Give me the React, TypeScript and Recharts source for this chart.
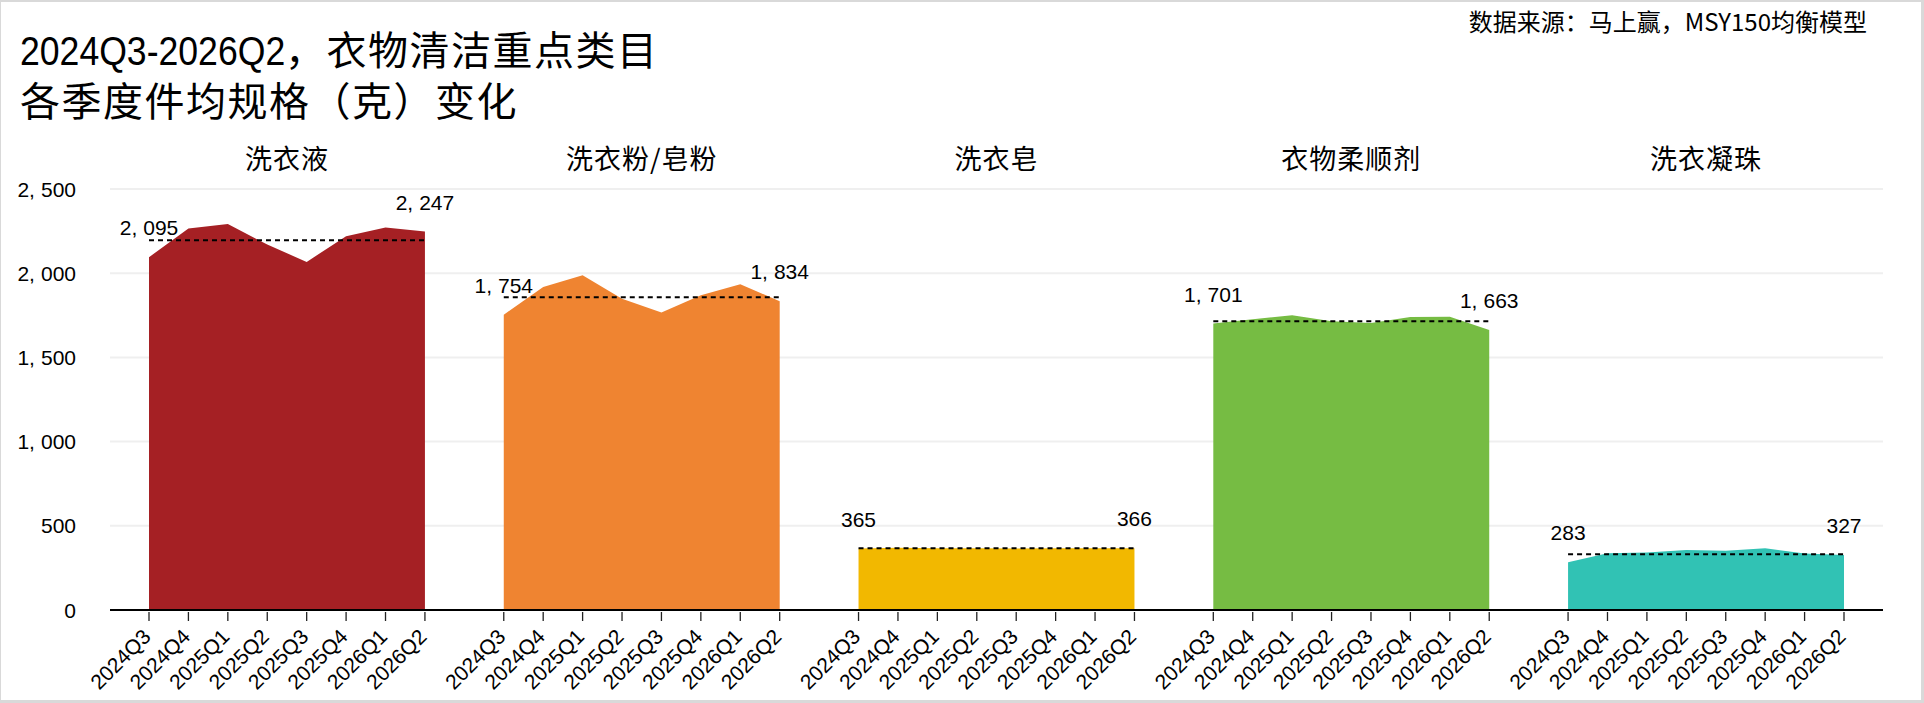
import React from 'react';
import { ComposedChart, Area, Line, XAxis, YAxis, CartesianGrid } from 'recharts';

const quarters = ['2024Q3', '2024Q4', '2025Q1', '2025Q2', '2025Q3', '2025Q4', '2026Q1', '2026Q2'];
const categoryNames = ['洗衣液', '洗衣粉/皂粉', '洗衣皂', '衣物柔顺剂', '洗衣凝珠'];
const liquidValues = [2095, 2266, 2292, 2170, 2067, 2220, 2272, 2247];
const powderValues = [1754, 1918, 1988, 1849, 1766, 1869, 1934, 1834];
const soapValues = [365, 369, 367, 366, 365, 366, 366, 366];
const softenerValues = [1701, 1726, 1750, 1714, 1704, 1740, 1742, 1663];
const podsValues = [283, 337, 341, 356, 352, 367, 336, 327];
const averageValues = [2196, 1857, 366, 1714, 331];
const yTicks = [0, 500, 1000, 1500, 2000, 2500];
const colors = ['#A52024', '#EF8431', '#F2B800', '#76BC43', '#31C2B4'];
const titleLatin = '2024Q3-2026Q2';
const titleCjk = '，衣物清洁重点类目';
const titleLine2 = '各季度件均规格（克）变化';
const sourceText = '数据来源：马上赢，MSY150均衡模型';

const seriesValues = [liquidValues, powderValues, soapValues, softenerValues, podsValues];

type Row = { key: string; quarter: string; first?: boolean; last?: boolean; avg?: number; [k: string]: any };
const rows: Row[] = [];
seriesValues.forEach((vals, p) => {
  if (p > 0) rows.push({ key: `gap-${p}`, quarter: '' });
  vals.forEach((v, i) => {
    rows.push({
      key: `${p}-${quarters[i]}`,
      quarter: quarters[i],
      [`v${p}`]: v,
      avg: averageValues[p],
      first: i === 0,
      last: i === vals.length - 1,
    });
  });
});
const quarterOfKey: Record<string, string> = {};
rows.forEach((r) => (quarterOfKey[r.key] = r.quarter));

const W = 1924;
const H = 703;
const plotLeft = 110;
const plotRight = 1883;
const plotTop = 189;
const pad = 39;
const step = (plotRight - plotLeft - 2 * pad) / (rows.length - 1);

const numFont = '"Liberation Sans", Arial, sans-serif';
const cjkFont = '"Noto Sans CJK SC", "Noto Sans", sans-serif';
const titleFont = '"Liberation Sans", "Noto Sans CJK SC", sans-serif';

const fmt = (v: number) => v.toLocaleString('en-US');

const NumText = ({ x, y, value, anchor, dy }: { x: number; y: number; value: number; anchor: string; dy?: string }) => {
  const parts = fmt(value).split(',');
  return (
    <text x={x} y={y} dy={dy} textAnchor={anchor as any} fontFamily={numFont} fontSize={21} fill="#000">
      {parts.length > 1 ? (
        <>
          <tspan>{parts[0] + ','}</tspan>
          {parts.slice(1).map((pt, i) => (
            <tspan key={i} dx={6}>
              {pt}
            </tspan>
          ))}
        </>
      ) : (
        parts[0]
      )}
    </text>
  );
};

const YTick = (props: any) => {
  const { x, y, payload } = props;
  return <NumText x={x} y={y} value={payload.value} anchor="end" dy="0.36em" />;
};

const XTick = (props: any) => {
  const { x, y, payload } = props;
  const label = quarterOfKey[payload.value];
  if (!label) return <g />;
  const tx = x + 3;
  const ty = y + 20;
  return (
    <g>
      <line x1={x} x2={x} y1={y - 6} y2={y + 3} stroke="#222" strokeWidth={1.3} />
      <text
        x={tx}
        y={ty}
        textAnchor="end"
        transform={`rotate(-45, ${tx}, ${ty})`}
        fontFamily={numFont}
        fontSize={21}
        fill="#000"
      >
        {label}
      </text>
    </g>
  );
};

const makeDot = (p: number) => (props: any) => {
  const { cx, cy, payload, index } = props;
  if (cx == null || cy == null || !payload || (!payload.first && !payload.last)) {
    return <g key={`d-${p}-${index}`} />;
  }
  return (
    <g key={`d-${p}-${index}`}>
      <NumText x={cx} y={cy - 22} value={payload[`v${p}`]} anchor="middle" />
    </g>
  );
};

export default function App() {
  return (
    <div style={{ position: 'absolute', left: 0, top: 0, width: W, height: H, background: '#fff' }}>
      <ComposedChart
        width={W}
        height={H}
        data={rows}
        margin={{ top: plotTop, right: W - plotRight, bottom: 13, left: 10 }}
      >
        <CartesianGrid vertical={false} stroke="#efefef" strokeWidth={2} />
        <XAxis
          dataKey="key"
          scale="point"
          type="category"
          interval={0}
          padding={{ left: pad, right: pad }}
          axisLine={{ stroke: '#000', strokeWidth: 2 }}
          tickLine={false}
          tickSize={6}
          tickMargin={2}
          height={80}
          tick={<XTick />}
        />
        <YAxis
          width={100}
          domain={[0, 2500]}
          ticks={yTicks}
          axisLine={false}
          tickLine={false}
          tickMargin={28}
          tick={<YTick />}
        />
        {seriesValues.map((_, p) => (
          <Area
            key={`a${p}`}
            type="linear"
            dataKey={`v${p}`}
            stroke="none"
            fill={colors[p]}
            fillOpacity={1}
            isAnimationActive={false}
            dot={makeDot(p)}
            activeDot={false}
          />
        ))}
        <Line
          type="linear"
          dataKey="avg"
          stroke="#000"
          strokeWidth={2}
          strokeDasharray="5 4"
          dot={false}
          activeDot={false}
          isAnimationActive={false}
        />
      </ComposedChart>
      <svg
        width={W}
        height={H}
        style={{ position: 'absolute', left: 0, top: 0, pointerEvents: 'none' }}
      >
        <text transform="translate(20, 65) scale(0.89, 1)" x={0} y={0} fontFamily={titleFont} fontSize={40} fill="#000">
          {titleLatin}
        </text>
        <text x={285} y={65} fontFamily={titleFont} fontSize={40} letterSpacing={1.5} fill="#000">
          {titleCjk}
        </text>
        <text x={20} y={116} fontFamily={titleFont} fontSize={40} letterSpacing={1.5} fill="#000">
          {titleLine2}
        </text>
        <text x={1867} y={31} textAnchor="end" fontFamily={cjkFont} fontSize={24} fill="#000">
          {sourceText}
        </text>
        {categoryNames.map((name, p) => (
          <text
            key={name}
            x={plotLeft + pad + (p * 9 + 3.5) * step}
            y={169}
            textAnchor="middle"
            fontFamily={cjkFont}
            fontSize={27}
            letterSpacing={1}
            fill="#000"
          >
            {name}
          </text>
        ))}
      </svg>
      <div
        style={{
          position: 'absolute',
          left: 0,
          top: 0,
          width: W,
          height: H,
          boxSizing: 'border-box',
          borderStyle: 'solid',
          borderColor: '#d9d9d9',
          borderWidth: '2px 3px 3px 1px',
          pointerEvents: 'none',
        }}
      />
    </div>
  );
}
